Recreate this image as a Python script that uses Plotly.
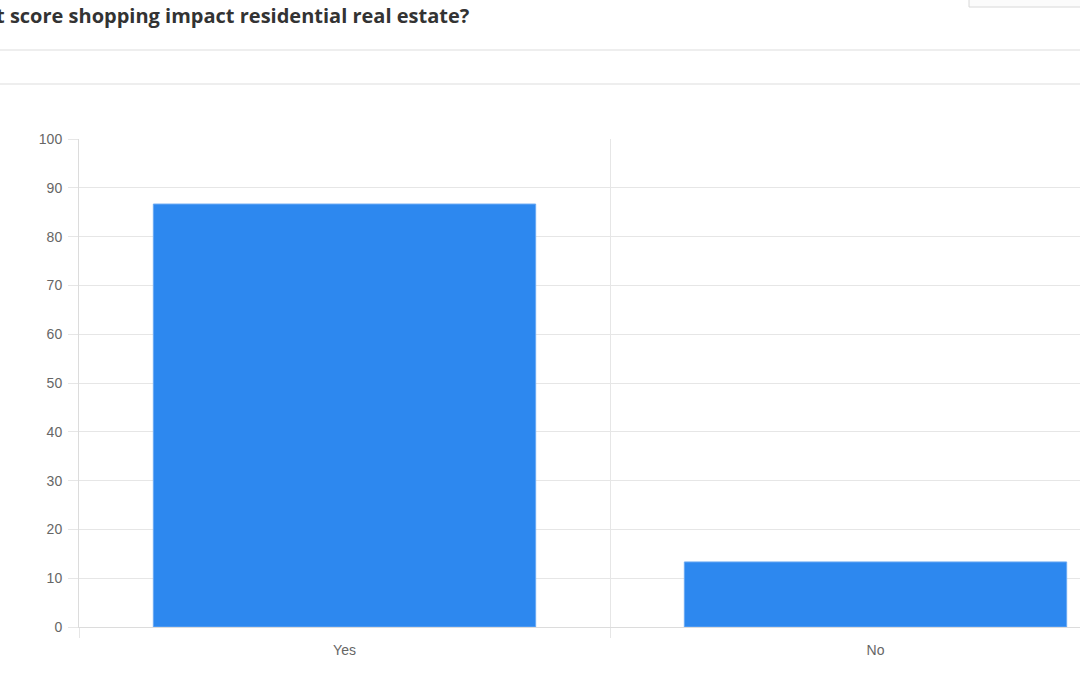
import plotly.graph_objects as go

categories = ["Yes", "No"]
values = [86.67, 13.33]
y_ticks = [0, 10, 20, 30, 40, 50, 60, 70, 80, 90, 100]
title_text = "t score shopping impact residential real estate?"

W, H = 1080, 675
L, R, T, B = 79, 0, 139, 48
PW = W - L - R
PH = H - T - B

def px_x(px):
    return (px - L) / PW

def px_y(py):
    return (H - B - py) / PH

grid = "#e6e6e6"
axis = "#dcdcdc"

fig = go.Figure()
fig.add_trace(go.Bar(
    x=categories, y=values, width=0.72,
    marker=dict(color="#2d88ef", line=dict(color="#6aa9f3", width=1)),
    hoverinfo="x+y",
))

fig.update_layout(
    width=W, height=H,
    margin=dict(l=L, r=R, t=T, b=B, pad=0),
    paper_bgcolor="white", plot_bgcolor="white",
    showlegend=False,
    font=dict(family="Liberation Sans, Arial, sans-serif", size=14, color="#666666"),
    xaxis=dict(
        type="category", range=[-0.5, -0.5 + PW / 531.0],
        tickson="boundaries", ticks="outside", ticklen=10, tickcolor=grid, tickwidth=1,
        showgrid=True, gridcolor=grid, gridwidth=1,
        showline=True, linecolor=axis, linewidth=1,
        tickfont=dict(size=14, color="#666666"),
        ticklabelstandoff=10,
        fixedrange=True,
    ),
    yaxis=dict(
        range=[0, 100], tickvals=y_ticks,
        ticks="outside", ticklen=10, tickcolor=grid, tickwidth=1,
        showgrid=True, gridcolor=grid, gridwidth=1,
        showline=True, linecolor=axis, linewidth=1,
        zeroline=False,
        tickfont=dict(size=14, color="#666666"),
        ticklabelstandoff=3,
        fixedrange=True,
    ),
    shapes=[
        dict(type="line", xref="paper", yref="paper", x0=px_x(0), x1=1, y0=px_y(50), y1=px_y(50),
             line=dict(color="#e8e8e8", width=1.5)),
        dict(type="line", xref="paper", yref="paper", x0=px_x(0), x1=1, y0=px_y(84), y1=px_y(84),
             line=dict(color="#e8e8e8", width=1.5)),
        dict(type="rect", xref="paper", yref="paper", x0=px_x(969), x1=px_x(1090), y0=px_y(7), y1=px_y(-10),
             line=dict(color="#d8d8d8", width=1), fillcolor="#fbfbfb"),
    ],
    annotations=[
        dict(text="<b>" + title_text + "</b>", xref="paper", yref="paper",
             x=px_x(-6), y=px_y(15), xanchor="left", yanchor="middle", showarrow=False,
             font=dict(family="Open Sans, sans-serif", size=20, color="#333333")),
    ],
)

fig.write_html("out.html", config={"displayModeBar": False},
               post_script="document.body.style.margin='0';document.body.style.overflow='hidden';")
